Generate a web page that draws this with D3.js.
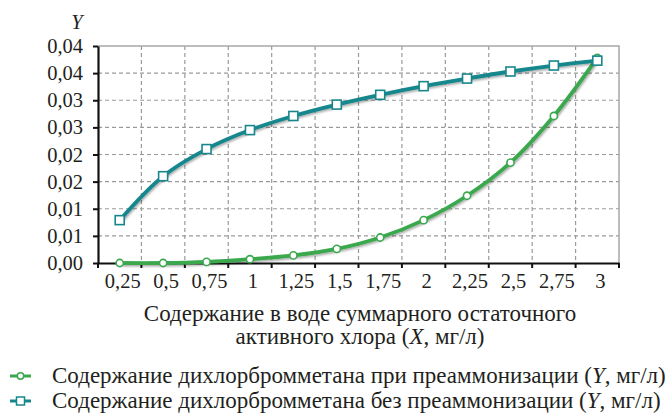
<!DOCTYPE html>
<html>
<head>
<meta charset="utf-8">
<script src="https://cdn.jsdelivr.net/npm/d3@7"></script>
<style>
  html, body { margin: 0; padding: 0; background: #fff; }
  svg text { font-family: "Liberation Serif", "Times New Roman", "DejaVu Serif", serif !important; }
</style>
</head>
<body>
<svg id="chart" width="669" height="416"></svg>
<script>
// ---- data ----
const categories = ["0,25", "0,5", "0,75", "1", "1,25", "1,5", "1,75", "2", "2,25", "2,5", "2,75", "3"];
const withPreammonization = [0.0000, 0.0000, 0.0002, 0.0007, 0.0014, 0.0026, 0.0047, 0.0079, 0.0124, 0.0185, 0.0271, 0.0378];
const withoutPreammonization = [0.0079, 0.0160, 0.0210, 0.0245, 0.0271, 0.0292, 0.0310, 0.0326, 0.0340, 0.0353, 0.0364, 0.0373];
const yTickValues = [0, 0.005, 0.01, 0.015, 0.02, 0.025, 0.03, 0.035, 0.04];
const yTickLabels = ["0,00", "0,01", "0,01", "0,02", "0,02", "0,03", "0,03", "0,04", "0,04"];
const seriesNames = [
  "Содержание дихлорбромметана при преаммонизации (",
  "Содержание дихлорбромметана без преаммонизации ("
];
const xTitle = ["Содержание в воде суммарного остаточного", "активного хлора ("];

// ---- layout ----
const svg = d3.select("#chart");
const L = 98, R = 619, T = 46, B = 263;
const greenC = "#3aa84e", tealC = "#17878c";
const tickFont = 20.5, textFont = 23;
const serif = "Liberation Serif, Times New Roman, DejaVu Serif, serif";

const x = d3.scaleBand().domain(categories).range([L, R]).padding(0);
const y = d3.scaleLinear().domain([0, 0.04]).range([B, T]);
const cx = d => x(d) + x.bandwidth() / 2;

const defs = svg.append("defs");
const f = defs.append("filter").attr("id", "sh").attr("x", "-10%").attr("y", "-10%").attr("width", "120%").attr("height", "130%");
f.append("feDropShadow").attr("dx", 1).attr("dy", 1.5).attr("stdDeviation", 1).attr("flood-color", "#000").attr("flood-opacity", 0.35);

// grid
const boundaries = categories.map(c => x(c)).concat([R]);
svg.append("g").selectAll("line").data(yTickValues.slice(1, -1)).join("line")
  .attr("x1", L).attr("x2", R).attr("y1", d => y(d)).attr("y2", d => y(d))
  .attr("stroke", "#9a9a9a").attr("stroke-width", 1.2).attr("stroke-dasharray", "4,3");
svg.append("g").selectAll("line").data(boundaries.slice(1, -1)).join("line")
  .attr("x1", d => d).attr("x2", d => d).attr("y1", T).attr("y2", B)
  .attr("stroke", "#9a9a9a").attr("stroke-width", 1.2).attr("stroke-dasharray", "4,3");
// top & right frame
svg.append("path").attr("d", `M${L},${T}H${R}V${B}`).attr("fill", "none")
  .attr("stroke", "#a8a8a8").attr("stroke-width", 1.5);

// axes
const yAxis = svg.append("g").attr("transform", `translate(${L},0)`)
  .call(d3.axisLeft(y).tickValues(yTickValues).tickFormat((d, i) => yTickLabels[i]).tickSize(5).tickSizeOuter(0).tickPadding(10));
yAxis.attr("font-family", serif);
yAxis.select(".domain").attr("stroke", "#111").attr("stroke-width", 2.2);
yAxis.selectAll(".tick line").attr("stroke", "#111").attr("stroke-width", 2);
yAxis.selectAll(".tick text").attr("font-size", tickFont).attr("fill", "#231f20");

const xAxis = svg.append("g").attr("transform", `translate(0,${B})`)
  .call(d3.axisBottom(x).tickSize(0).tickPadding(10));
xAxis.attr("font-family", serif);
xAxis.select(".domain").attr("stroke", "#111").attr("stroke-width", 2.2);
xAxis.selectAll(".tick text").attr("font-size", tickFont).attr("fill", "#231f20").attr("dx", 3);
xAxis.selectAll(".bt").data(boundaries).join("line").attr("class", "bt")
  .attr("x1", d => d).attr("x2", d => d).attr("y1", 0).attr("y2", 5)
  .attr("stroke", "#111").attr("stroke-width", 2);

// Y label
svg.append("text").attr("x", 77).attr("y", 29).attr("text-anchor", "middle")
  .attr("font-size", tickFont).attr("font-style", "italic").attr("fill", "#231f20").text("Y");

// lines
const line = d3.line().x((d, i) => cx(categories[i])).y(d => y(d)).curve(d3.curveCatmullRom.alpha(0.5));
const series = [
  { vals: withPreammonization, color: greenC, shape: "circle" },
  { vals: withoutPreammonization, color: tealC, shape: "square" }
];
series.forEach(s => {
  svg.append("path").datum(s.vals).attr("d", line).attr("fill", "none")
    .attr("stroke", s.color).attr("stroke-width", 3.8).attr("filter", "url(#sh)");
});
series.forEach(s => {
  const g = svg.append("g");
  if (s.shape === "circle") {
    g.selectAll("circle").data(s.vals).join("circle")
      .attr("cx", (d, i) => cx(categories[i])).attr("cy", d => y(d)).attr("r", 3.6)
      .attr("fill", "#fff").attr("stroke", s.color).attr("stroke-width", 1.6);
  } else {
    g.selectAll("rect").data(s.vals).join("rect")
      .attr("x", (d, i) => cx(categories[i]) - 4.5).attr("y", d => y(d) - 4.5)
      .attr("width", 9).attr("height", 9)
      .attr("fill", "#fff").attr("stroke", s.color).attr("stroke-width", 1.6);
  }
});

// x title
const t1 = svg.append("text").attr("x", 360).attr("y", 321).attr("text-anchor", "middle")
  .attr("font-size", textFont).attr("fill", "#231f20").text(xTitle[0]);
const t2 = svg.append("text").attr("x", 360).attr("y", 344).attr("text-anchor", "middle")
  .attr("font-size", textFont).attr("fill", "#231f20");
t2.append("tspan").text(xTitle[1]);
t2.append("tspan").attr("font-style", "italic").text("X");
t2.append("tspan").text(", мг/л)");

// legend
series.forEach((s, i) => {
  const ly = 376 + i * 25;
  const g = svg.append("g");
  g.append("line").attr("x1", 10).attr("x2", 31).attr("y1", ly).attr("y2", ly)
    .attr("stroke", s.color).attr("stroke-width", 3);
  if (s.shape === "circle") {
    g.append("circle").attr("cx", 20.5).attr("cy", ly).attr("r", 3.2)
      .attr("fill", "#fff").attr("stroke", s.color).attr("stroke-width", 1.5);
  } else {
    g.append("rect").attr("x", 16.5).attr("y", ly - 4).attr("width", 8).attr("height", 8)
      .attr("fill", "#fff").attr("stroke", s.color).attr("stroke-width", 1.5);
  }
  const tx = g.append("text").attr("x", 52).attr("y", ly + 7)
    .attr("font-size", textFont).attr("fill", "#231f20");
  tx.append("tspan").text(seriesNames[i]);
  tx.append("tspan").attr("font-style", "italic").text("Y");
  tx.append("tspan").text(", мг/л)");
});
</script>
</body>
</html>
